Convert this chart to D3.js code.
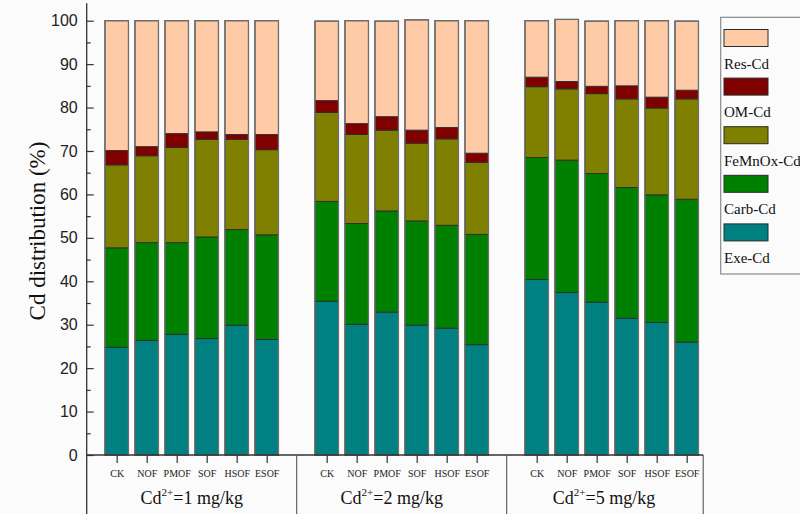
<!DOCTYPE html>
<html>
<head>
<meta charset="utf-8">
<script src="https://cdn.jsdelivr.net/npm/d3@7"></script>
<style>
  html, body { margin: 0; padding: 0; background: #fbfbfb; }
  svg { display: block; }
</style>
</head>
<body>
<svg id="chart" width="800" height="514"></svg>
<script>
// Treatments within each Cd level, and the Cd levels themselves
const treatments = ["CK", "NOF", "PMOF", "SOF", "HSOF", "ESOF"];
const cdLevels = ["1", "2", "5"];

// Fractions, bottom to top of each stack
const fractions = ["Exe-Cd", "Carb-Cd", "FeMnOx-Cd", "OM-Cd", "Res-Cd"];
const fractionColors = ["#008080", "#008000", "#808000", "#800000", "#ffcba6"];

// Percent of total Cd per fraction; 18 bars = 3 Cd levels x 6 treatments
const exeCd = [24.8, 26.4, 27.8, 26.8, 29.9, 26.6,
               35.4, 30.1, 32.9, 29.9, 29.2, 25.4,
               40.4, 37.4, 35.2, 31.5, 30.5, 26.0];
const carbCd = [22.9, 22.5, 21.1, 23.4, 22.0, 24.1,
                23.0, 23.2, 23.3, 24.0, 23.7, 25.4,
                28.1, 30.5, 29.6, 30.1, 29.4, 32.9];
const feMnOxCd = [19.1, 20.0, 21.9, 22.5, 20.8, 19.6,
                  20.5, 20.5, 18.6, 17.9, 19.9, 16.6,
                  16.3, 16.4, 18.4, 20.4, 20.0, 23.1];
const omCd = [3.3, 2.1, 3.2, 1.7, 1.1, 3.5,
              2.7, 2.5, 3.1, 3.0, 2.6, 2.1,
              2.2, 1.7, 1.7, 3.0, 2.5, 2.0];
const resCd = [29.9, 29.0, 26.0, 25.6, 26.2, 26.2,
               18.3, 23.7, 22.0, 25.4, 24.6, 30.5,
               13.0, 14.3, 15.0, 15.0, 17.6, 15.9];

const yTicks = [0, 10, 20, 30, 40, 50, 60, 70, 80, 90, 100];
const yMinorTicks = [5, 15, 25, 35, 45, 55, 65, 75, 85, 95];

const series = [exeCd, carbCd, feMnOxCd, omCd, resCd];

// One row per bar: slot index along x (an empty slot separates Cd levels)
const rows = [];
cdLevels.forEach((lvl, g) => {
  treatments.forEach((t, j) => {
    const i = g * treatments.length + j;
    const row = { slot: g * (treatments.length + 1) + j, treatment: t, level: lvl };
    fractions.forEach((f, k) => { row[f] = series[k][i]; });
    rows.push(row);
  });
});

const stacked = d3.stack().keys(fractions)(rows);

const svg = d3.select("#chart");
const H = 514;

const x = d3.scaleLinear().domain([-1, 20]).range([86.7, 716.7]);
const y = d3.scaleLinear().domain([0, 100]).range([455, 20.7]);
const barW = 23.5;

// Stacked segments
const layer = svg.append("g");
stacked.forEach((s, k) => {
  layer.append("g")
    .selectAll("rect")
    .data(s)
    .join("rect")
    .attr("x", d => x(d.data.slot) - barW / 2)
    .attr("y", d => y(d[1]))
    .attr("width", barW)
    .attr("height", d => y(d[0]) - y(d[1]))
    .attr("fill", fractionColors[k])
    .attr("stroke", "#2a2a2a")
    .attr("stroke-width", 0.9);
});

// Outer outline of every bar
layer.append("g")
  .selectAll("rect")
  .data(stacked[stacked.length - 1])
  .join("rect")
  .attr("x", d => x(d.data.slot) - barW / 2)
  .attr("y", d => y(d[1]))
  .attr("width", barW)
  .attr("height", d => y(0) - y(d[1]))
  .attr("fill", "none")
  .attr("stroke", "#6e6e6e")
  .attr("stroke-width", 1.3);

// Y axis with inward major and minor ticks
const yAxisG = svg.append("g")
  .attr("transform", `translate(${x(-1)},0)`)
  .call(d3.axisLeft(y).tickValues(yTicks).tickSize(-7).tickPadding(9).tickFormat(d3.format("d")));
yAxisG.select(".domain").remove();
yAxisG.selectAll("line").attr("stroke", "#333").attr("stroke-width", 1.2);
yAxisG.selectAll("text")
  .attr("font-family", "'Liberation Sans', Arial, sans-serif")
  .attr("font-size", 16)
  .attr("fill", "#222");

const yMinorG = svg.append("g")
  .attr("transform", `translate(${x(-1)},0)`)
  .call(d3.axisLeft(y).tickValues(yMinorTicks).tickSize(-4).tickFormat(""));
yMinorG.select(".domain").remove();
yMinorG.selectAll("line").attr("stroke", "#333").attr("stroke-width", 1.2);

// Y axis line, running down through the category box
svg.append("line")
  .attr("x1", x(-1)).attr("x2", x(-1))
  .attr("y1", y(104)).attr("y2", H)
  .attr("stroke", "#333").attr("stroke-width", 1.3);

// Baseline
const xEnd = x(19.55);
svg.append("line")
  .attr("x1", x(-1)).attr("x2", xEnd)
  .attr("y1", y(0)).attr("y2", y(0))
  .attr("stroke", "#333").attr("stroke-width", 1.3);

// Category ticks and labels
const xAxisG = svg.append("g")
  .attr("transform", `translate(0,${y(0)})`)
  .call(d3.axisBottom(x)
    .tickValues(rows.map(r => r.slot))
    .tickSize(8)
    .tickPadding(7)
    .tickFormat((d, i) => rows[i].treatment));
xAxisG.select(".domain").remove();
xAxisG.selectAll("line").attr("stroke", "#333").attr("stroke-width", 1.2);
xAxisG.selectAll("text")
  .attr("font-family", "'Liberation Serif', 'Times New Roman', serif")
  .attr("font-size", 10)
  .attr("fill", "#222");

// Group separators below the baseline
const groupEdges = [6, 13].map(s => x(s)).concat([xEnd]);
svg.append("g")
  .selectAll("line")
  .data(groupEdges)
  .join("line")
  .attr("x1", d => d).attr("x2", d => d)
  .attr("y1", y(0)).attr("y2", H)
  .attr("stroke", "#555").attr("stroke-width", 1.1);

// Cd level labels
const groupBounds = [[x(-1), x(6)], [x(6), x(13)], [x(13), xEnd]];
const labelShift = [0, -10, -1];
const glab = svg.append("g")
  .attr("font-family", "'Liberation Serif', 'Times New Roman', serif")
  .attr("fill", "#111");
cdLevels.forEach((lvl, g) => {
  const cx = (groupBounds[g][0] + groupBounds[g][1]) / 2 + labelShift[g];
  const t = glab.append("text")
    .attr("x", cx).attr("y", 504)
    .attr("text-anchor", "middle")
    .attr("font-size", 18);
  t.append("tspan").text("Cd");
  t.append("tspan").attr("font-size", 11).attr("dy", -8).text("2+");
  t.append("tspan").attr("dy", 8).text(`=${lvl} mg/kg`);
});

// Y axis title
svg.append("text")
  .attr("transform", `translate(45,231) rotate(-90)`)
  .attr("text-anchor", "middle")
  .attr("font-family", "'Liberation Serif', 'Times New Roman', serif")
  .attr("font-size", 23)
  .attr("fill", "#111")
  .text("Cd distribution (%)");

// Legend, top-down from Res-Cd
const legend = svg.append("g");
legend.append("rect")
  .attr("x", 720.7).attr("y", 17.3)
  .attr("width", 100).attr("height", 256.7)
  .attr("fill", "none")
  .attr("stroke", "#8a8a8a")
  .attr("stroke-width", 1.2);
const legendOrder = fractions.map((f, k) => ({ name: f, color: fractionColors[k] })).reverse();
const entry = legend.selectAll("g.entry")
  .data(legendOrder)
  .join("g")
  .attr("class", "entry")
  .attr("transform", (d, i) => `translate(724,${29.5 + i * 48.6})`);
entry.append("rect")
  .attr("width", 44).attr("height", 17)
  .attr("fill", d => d.color)
  .attr("stroke", "#2a2a2a")
  .attr("stroke-width", 1);
entry.append("text")
  .attr("x", 0).attr("y", 39)
  .attr("font-family", "'Liberation Serif', 'Times New Roman', serif")
  .attr("font-size", 15)
  .attr("fill", "#111")
  .text(d => d.name);
</script>
</body>
</html>
